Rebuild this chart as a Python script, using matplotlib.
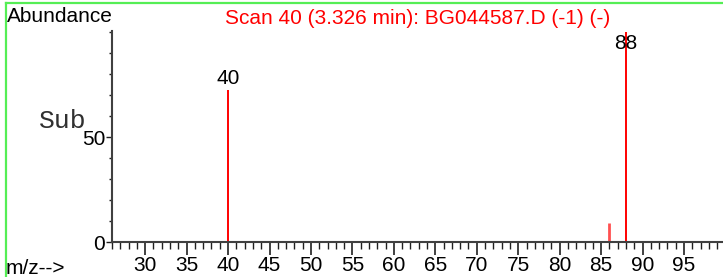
import matplotlib
matplotlib.use("Agg")
import matplotlib.pyplot as plt
from matplotlib.lines import Line2D
from matplotlib.ticker import MultipleLocator

plt.rcParams['font.family'] = ['Liberation Sans', 'DejaVu Sans']

mz = [40, 86, 88]
abundance = [72.5, 9, 100]
peak_colors = ['#ff0000', '#ff5050', '#ff0000']
labeled = [40, 88]
x_ticks = list(range(30, 100, 5))
title = "Scan 40 (3.326 min): BG044587.D (-1) (-)"

W, H = 723, 277
fig = plt.figure(figsize=(W / 100, H / 100), dpi=100)
ax = fig.add_axes([112 / W, 35 / H, (W - 112) / W, (242 - 31) / H])

for m, a, c in zip(mz, abundance, peak_colors):
    ax.vlines(m, 0, a, color=c, linewidth=1.4 if c == '#ff0000' else 2.0)
for m, a in zip(mz, abundance):
    if m in labeled:
        ax.text(m, a - 1 if a >= 100 else a + 1, str(m), ha='center',
                va='top' if a >= 100 else 'bottom', fontsize=15)

ax.set_xlim(26.0, 99.7)
ax.set_ylim(0, 100.5)
ax.set_xticks(x_ticks)
ax.xaxis.set_minor_locator(MultipleLocator(1))
ax.set_yticks([0, 50])
ax.yaxis.set_minor_locator(MultipleLocator(10))

for s in ['top', 'right']:
    ax.spines[s].set_visible(False)
for s in ['left', 'bottom']:
    ax.spines[s].set_color('#404040')
    ax.spines[s].set_linewidth(1.5)

ax.tick_params(axis='x', which='major', length=9, width=1.2, color='#202020',
               labelsize=15, pad=1)
ax.tick_params(axis='x', which='minor', length=5, width=1.0, color='#202020')
ax.tick_params(axis='y', which='major', length=4, width=1.0, color='#202020',
               labelsize=15, pad=1)
ax.tick_params(axis='y', which='minor', length=2, width=1.0, color='#202020')

fig.text(7 / W, 1 - 16 / H, "Abundance", fontsize=15, va='center', ha='left')
fig.text(418 / W, 1 - 18 / H, title, fontsize=15, color='#ff0000',
         va='center', ha='center')
fig.text(6 / W, 1 - 268 / H, "m/z-->", fontsize=15, va='center', ha='left')
fig.text(39 / W, 1 - 121 / H, "Sub", fontsize=19, family='Liberation Mono',
         va='center', ha='left', color='#303030')

# green frame
fig.add_artist(Line2D([6 / W, 6 / W], [0, 1 - 3 / H], color='#55ee55',
                      linewidth=1.6, transform=fig.transFigure))
fig.add_artist(Line2D([6 / W, 1], [1 - 3 / H, 1 - 3 / H], color='#55ee55',
                      linewidth=1.6, transform=fig.transFigure))

fig.savefig("out.png", dpi=100)
